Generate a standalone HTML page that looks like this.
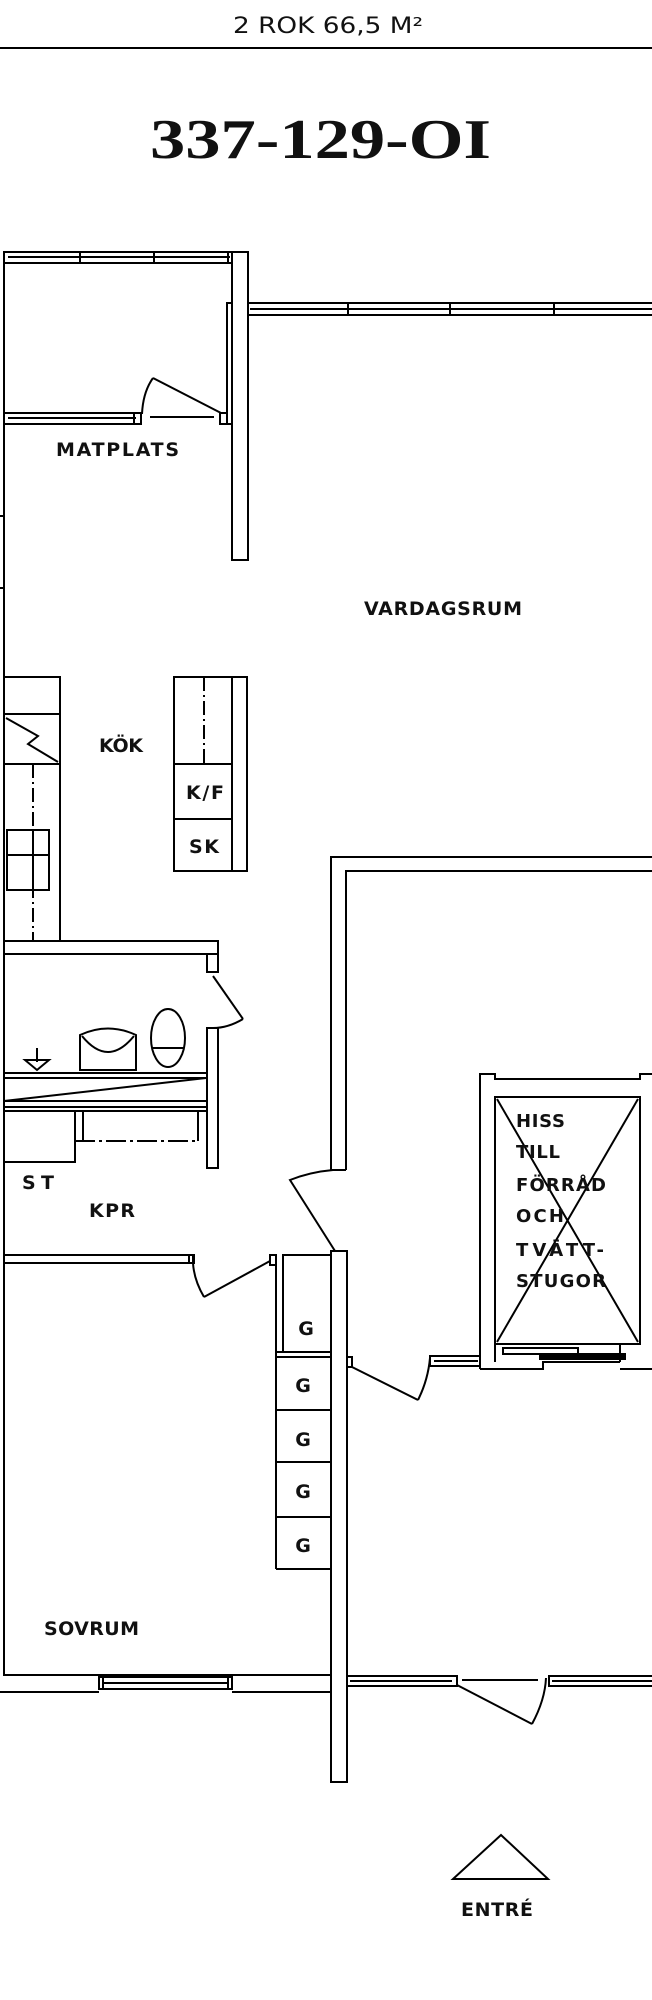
<!DOCTYPE html>
<html><head><meta charset="utf-8"><style>
html,body{margin:0;padding:0;background:#fff}
svg{display:block}
text{font-family:"DejaVu Sans","Liberation Sans",sans-serif;font-weight:bold;fill:#111}
</style></head><body>
<svg width="652" height="2000" viewBox="0 0 652 2000" xmlns="http://www.w3.org/2000/svg">
<g fill="none" stroke="#000" stroke-width="2">
<line x1="0" y1="48" x2="652" y2="48"/>
<line x1="4" y1="252" x2="4" y2="1676"/>
<line x1="0" y1="516" x2="4" y2="516"/><line x1="0" y1="588" x2="4" y2="588"/>
<rect x="4" y="252" width="243" height="11" fill="#fff"/>
<line x1="8" y1="257" x2="230" y2="257"/>
<line x1="80" y1="252" x2="80" y2="263"/><line x1="154" y1="252" x2="154" y2="263"/><line x1="228" y1="252" x2="228" y2="263"/>
<rect x="232" y="252" width="16" height="308" fill="#fff"/>
<rect x="227" y="303" width="5" height="121"/>
<rect x="248" y="303" width="406" height="12"/>
<line x1="250" y1="309" x2="652" y2="309"/>
<line x1="348" y1="303" x2="348" y2="315"/><line x1="450" y1="303" x2="450" y2="315"/><line x1="554" y1="303" x2="554" y2="315"/>
<rect x="4" y="413" width="137" height="11"/>
<line x1="8" y1="418" x2="136" y2="418"/>
<rect x="134" y="413" width="7" height="11"/>
<rect x="220" y="413" width="7" height="11"/>
<line x1="150" y1="417" x2="214" y2="417"/>
<line x1="221" y1="413" x2="153" y2="378"/>
<path d="M153 378 Q143 392 142 414"/>
<rect x="4" y="677" width="56" height="264"/>
<line x1="4" y1="714" x2="60" y2="714"/><line x1="4" y1="764" x2="60" y2="764"/>
<polyline points="6,718 38,736 28,744 58,762"/>
<line x1="33" y1="764" x2="33" y2="941" stroke-dasharray="14,4,2,4"/>
<rect x="7" y="830" width="42" height="60" fill="#fff"/>
<line x1="7" y1="855" x2="49" y2="855"/><line x1="33" y1="830" x2="33" y2="890"/>
<rect x="174" y="677" width="73" height="194"/>
<line x1="232" y1="677" x2="232" y2="871"/>
<line x1="174" y1="764" x2="232" y2="764"/><line x1="174" y1="819" x2="232" y2="819"/>
<line x1="204" y1="677" x2="204" y2="764" stroke-dasharray="14,4,2,4"/>
<rect x="4" y="941" width="214" height="13"/>
<rect x="207" y="954" width="11" height="18"/>
<line x1="213" y1="976" x2="243" y2="1019"/>
<path d="M243 1019 Q228 1028 213 1028"/>
<rect x="207" y="1028" width="11" height="140"/>
<line x1="37" y1="1048" x2="37" y2="1062"/>
<path d="M25 1060 L49 1060 L37 1070 Z"/>
<path d="M80 1070 L80 1035 Q108 1022 136 1035 L136 1070 Z"/>
<path d="M82 1036 Q108 1068 134 1036"/>
<ellipse cx="168" cy="1038" rx="17" ry="29"/>
<line x1="152" y1="1048" x2="184" y2="1048"/>
<line x1="4" y1="1073" x2="207" y2="1073"/>
<line x1="4" y1="1078" x2="207" y2="1078"/>
<line x1="4" y1="1101" x2="207" y2="1101"/>
<line x1="4" y1="1107" x2="207" y2="1107"/>
<line x1="4" y1="1101" x2="206" y2="1078"/>
<rect x="4" y="1111" width="71" height="51"/>
<line x1="83" y1="1111" x2="83" y2="1141"/><line x1="198" y1="1111" x2="198" y2="1141"/>
<line x1="75" y1="1141" x2="198" y2="1141" stroke-dasharray="20,4,3,4"/>
<line x1="75" y1="1111" x2="207" y2="1111"/>
<path d="M331 1170 L331 857 L652 857 M346 1170 L346 871 L652 871 M331 1170 L346 1170"/>
<path d="M333 1170 Q310 1172 290 1180 L335 1251"/>
<rect x="4" y="1255" width="189" height="8"/>
<rect x="189" y="1255" width="5" height="8"/>
<line x1="270" y1="1261" x2="204" y2="1297"/>
<path d="M204 1297 Q194 1280 193 1263"/>
<rect x="270" y="1255" width="6" height="10"/>
<rect x="283" y="1255" width="48" height="97"/>
<line x1="276" y1="1255" x2="276" y2="1569"/>
<line x1="276" y1="1352" x2="331" y2="1352"/>
<line x1="276" y1="1357" x2="331" y2="1357"/>
<line x1="276" y1="1410" x2="331" y2="1410"/>
<line x1="276" y1="1462" x2="331" y2="1462"/>
<line x1="276" y1="1517" x2="331" y2="1517"/>
<line x1="276" y1="1569" x2="331" y2="1569"/>
<rect x="331" y="1251" width="16" height="531" fill="#fff"/>
<path d="M4 1675 L331 1675 M0 1692 L99 1692 M232 1692 L331 1692"/>
<rect x="99" y="1677" width="133" height="12"/>
<line x1="103" y1="1683" x2="228" y2="1683"/>
<line x1="103" y1="1677" x2="103" y2="1689"/><line x1="228" y1="1677" x2="228" y2="1689"/>
<rect x="347" y="1676" width="110" height="10"/>
<line x1="350" y1="1681" x2="452" y2="1681"/>
<line x1="462" y1="1680" x2="538" y2="1680"/>
<line x1="457" y1="1685" x2="532" y2="1724"/>
<path d="M532 1724 Q545 1700 546 1678"/>
<rect x="549" y="1676" width="105" height="10"/>
<line x1="552" y1="1681" x2="652" y2="1681"/>
<rect x="347" y="1357" width="5" height="10"/>
<line x1="352" y1="1367" x2="418" y2="1400"/>
<path d="M418 1400 Q428 1380 430 1358"/>
<rect x="430" y="1356" width="50" height="10"/>
<line x1="434" y1="1361" x2="478" y2="1361"/>
<path d="M480 1369 L480 1074 L495 1074 L495 1079 L640 1079 L640 1074 L652 1074"/>
<rect x="495" y="1097" width="145" height="247"/>
<line x1="497" y1="1099" x2="638" y2="1342"/>
<line x1="638" y1="1099" x2="497" y2="1342"/>
<path d="M480 1369 L543 1369 L543 1362 L620 1362 M495 1344 L495 1362 M620 1362 L620 1344 M620 1369 L652 1369"/>
<rect x="503" y="1348" width="75" height="6"/>
<rect x="540" y="1354" width="85" height="5" fill="#000"/>
<path d="M501 1835 L548 1879 L453 1879 Z"/>
</g>
<text x="233" y="33" font-size="22" textLength="190" lengthAdjust="spacingAndGlyphs" style="font-weight:normal">2 ROK 66,5 M²</text>
<text x="150" y="158" font-size="56" textLength="341" lengthAdjust="spacingAndGlyphs" style="font-family:'Liberation Serif',serif;font-weight:bold">337-129-OI</text>
<g font-size="19" lengthAdjust="spacingAndGlyphs">
<text x="56" y="456" textLength="123">MATPLATS</text>
<text x="364" y="615" textLength="158">VARDAGSRUM</text>
<text x="99" y="752" textLength="44">KÖK</text>
<text x="186" y="799" textLength="38">K/F</text>
<text x="189" y="853" textLength="30">SK</text>
<text x="22" y="1189" textLength="32">ST</text>
<text x="89" y="1217" textLength="46">KPR</text>
<text x="44" y="1635" textLength="95">SOVRUM</text>
<text x="461" y="1916" textLength="72">ENTRÉ</text>
</g>
<g font-size="19" text-anchor="middle">
<text x="306" y="1335">G</text>
<text x="303" y="1392">G</text>
<text x="303" y="1446">G</text>
<text x="303" y="1498">G</text>
<text x="303" y="1552">G</text>
</g>
<g font-size="18" lengthAdjust="spacingAndGlyphs">
<text x="516" y="1127" textLength="49">HISS</text>
<text x="516" y="1158" textLength="44">TILL</text>
<text x="516" y="1191" textLength="90">FÖRRÅD</text>
<text x="516" y="1222" textLength="48">OCH</text>
<text x="516" y="1256" textLength="88">TVÄTT-</text>
<text x="516" y="1287" textLength="90">STUGOR</text>
</g>
</svg>
</body></html>
